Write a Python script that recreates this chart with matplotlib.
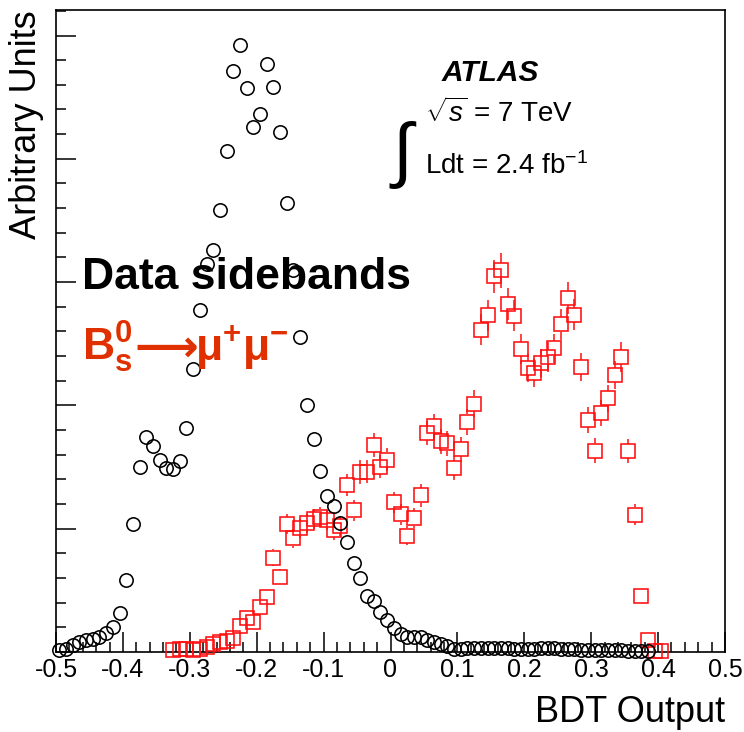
import numpy as np
import matplotlib
matplotlib.use('Agg')
import matplotlib.pyplot as plt
from matplotlib.ticker import MultipleLocator, FuncFormatter

plt.rcParams['font.family'] = ['Liberation Sans', 'DejaVu Sans']
plt.rcParams['mathtext.fontset'] = 'custom'
plt.rcParams['mathtext.rm'] = 'Liberation Sans'
plt.rcParams['mathtext.it'] = 'Liberation Sans:italic'
plt.rcParams['mathtext.bf'] = 'Liberation Sans:bold'
plt.rcParams['axes.unicode_minus'] = False

# ---- histogram binning (100 bins of BDT output) ----
bin_edges = np.linspace(-0.5, 0.5, 101)
bin_centers = 0.5 * (bin_edges[:-1] + bin_edges[1:])

# ---- data sidebands (open black circles), bins 0..88 ----
sideband_first_bin = 0
sideband = [0.016, 0.024, 0.057, 0.081, 0.097, 0.106, 0.122, 0.154, 0.203, 0.317,
            0.584, 1.039, 1.502, 1.745, 1.672, 1.558, 1.494, 1.488, 1.553, 1.818,
            2.297, 2.776, 3.145, 3.259, 3.588, 4.067, 4.712, 4.927, 4.575, 4.256,
            4.364, 4.773, 4.584, 4.215, 3.640, 3.097, 2.551, 2.005, 1.729, 1.467,
            1.266, 1.187, 1.047, 0.889, 0.723, 0.599, 0.456, 0.412, 0.325, 0.257,
            0.192, 0.146, 0.124, 0.120, 0.119, 0.097, 0.084, 0.065, 0.045, 0.028,
            0.025, 0.030, 0.030, 0.035, 0.035, 0.035, 0.030, 0.030, 0.028, 0.025,
            0.025, 0.028, 0.030, 0.030, 0.030, 0.028, 0.025, 0.022, 0.020, 0.020,
            0.020, 0.018, 0.018, 0.015, 0.015, 0.012, 0.012, 0.010, 0.008]

# ---- Bs -> mu mu signal MC (open red squares), bins 17..90 ----
signal_first_bin = 17
signal = [0.016, 0.022, 0.022, 0.016, 0.022, 0.043, 0.065, 0.084, 0.092, 0.116,
          0.211, 0.274, 0.246, 0.363, 0.449, 0.765, 0.606, 1.039, 0.921, 1.002,
          1.043, 1.077, 1.098, 1.071, 0.990, 1.023, 1.356, 1.149, 1.459, 1.463,
          1.678, 1.504, 1.561, 1.213, 1.116, 0.944, 1.084, 1.270, 1.775, 1.829,
          1.709, 1.692, 1.491, 1.645, 1.869, 2.015, 2.614, 2.731, 3.048, 3.095,
          2.822, 2.727, 2.457, 2.305, 2.265, 2.346, 2.392, 2.463, 2.658, 2.869,
          2.735, 2.313, 1.883, 1.634, 1.942, 2.059, 2.248, 2.392, 1.631, 1.114,
          0.455, 0.097, 0.011, 0.011]
signal_err = [0.010, 0.012, 0.012, 0.010, 0.012, 0.018, 0.022, 0.025, 0.027, 0.030,
              0.040, 0.045, 0.045, 0.050, 0.055, 0.070, 0.065, 0.080, 0.075, 0.080,
              0.080, 0.080, 0.080, 0.080, 0.080, 0.080, 0.090, 0.085, 0.095, 0.095,
              0.100, 0.095, 0.095, 0.085, 0.085, 0.075, 0.080, 0.090, 0.100, 0.100,
              0.100, 0.100, 0.095, 0.100, 0.105, 0.110, 0.125, 0.125, 0.135, 0.140,
              0.130, 0.125, 0.120, 0.115, 0.115, 0.115, 0.120, 0.120, 0.125, 0.130,
              0.125, 0.115, 0.105, 0.100, 0.105, 0.110, 0.115, 0.120, 0.100, 0.085,
              0.055, 0.025, 0.010, 0.010]

x_ticks = [-0.5, -0.4, -0.3, -0.2, -0.1, 0.0, 0.1, 0.2, 0.3, 0.4, 0.5]

W, H = 744, 732
fig = plt.figure(figsize=(W / 100, H / 100), dpi=100)
ax = fig.add_axes([56 / W, 80 / H, 669 / W, 642 / H])
ax.set_xlim(-0.5, 0.5)
ax.set_ylim(0, 5.207)

xs_b = bin_centers[sideband_first_bin:sideband_first_bin + len(sideband)]
xs_s = bin_centers[signal_first_bin:signal_first_bin + len(signal)]
sig = np.array(signal)
err = np.array(signal_err)

# error bars with a gap where the marker sits (ROOT style)
sq_ms = 10.4
gap_px = sq_ms * 100 / 72 / 2
ax_h_px = 642
gap = gap_px * (5.207 / ax_h_px)
m = err > gap
red = '#ff0f0f'
ax.vlines(xs_s[m], sig[m] + gap, sig[m] + err[m], color=red, lw=1.1, zorder=3)
ax.vlines(xs_s[m], sig[m] - err[m], sig[m] - gap, color=red, lw=1.1, zorder=3)
ax.plot(xs_s, sig, ls='none', marker='s', ms=sq_ms, mfc='none', mec=red,
        mew=1.15, zorder=3, clip_on=False)

ax.plot(xs_b, sideband, ls='none', marker='o', ms=9.6, mfc='none', mec='black',
        mew=1.15, zorder=4, clip_on=False)

ax.set_xticks(x_ticks)
ax.xaxis.set_minor_locator(MultipleLocator(0.02))
ax.yaxis.set_major_locator(MultipleLocator(1))
ax.yaxis.set_minor_locator(MultipleLocator(0.2))
ax.xaxis.set_major_formatter(FuncFormatter(lambda v, p: '0' if abs(v) < 1e-9 else '%.1f' % v))
ax.tick_params(which='major', direction='in', length=14.5, width=1.1,
               top=False, right=False, labelsize=18, pad=4)
ax.tick_params(which='minor', direction='in', length=7, width=1.1,
               top=False, right=False)
ax.tick_params(axis='y', labelleft=False)
for s in ax.spines.values():
    s.set_linewidth(1.2)

def fx(px):
    return px / W

def fy(py):
    return 1 - py / H

fig.text(fx(725), fy(722), 'BDT Output', ha='right', va='baseline', fontsize=26)
fig.text(fx(27), fy(10), 'Arbitrary Units', rotation=90, ha='center', va='top', fontsize=26)
fig.text(fx(82), fy(289), 'Data sidebands', fontweight='bold', fontsize=32,
         ha='left', va='baseline')

sig_color = '#e03000'
fig.text(fx(82), fy(361), r'$\mathbf{B^{0}_{s}}$',
         color=sig_color, fontsize=32, ha='left', va='baseline')
fig.text(fx(134), fy(361), '\u27f6', color=sig_color, fontsize=32, fontweight='bold',
         family=['DejaVu Sans'], ha='left', va='baseline')
fig.text(fx(195), fy(361), r'$\mathbf{\mu^{+}\mu^{-}}$',
         color=sig_color, fontsize=32, ha='left', va='baseline')

fig.text(fx(442), fy(81), 'ATLAS', fontstyle='italic', fontweight='bold',
         fontsize=21.5, ha='left', va='baseline')
fig.text(fx(425), fy(122), r'$\sqrt{s}$ = 7 TeV', fontsize=20, ha='left', va='baseline')
fig.text(fx(402), fy(155), '\u222b', fontsize=52, ha='center', va='center')
fig.text(fx(425), fy(174), r'Ldt = 2.4 fb$^{\mathregular{-1}}$', fontsize=20,
         ha='left', va='baseline')

fig.savefig('out.png', dpi=100)
